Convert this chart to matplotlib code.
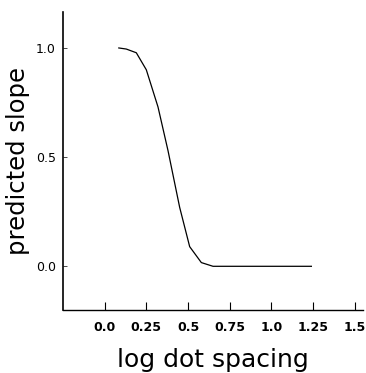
import matplotlib
matplotlib.use('Agg')
from matplotlib import pyplot as plt

# data
log_spacing = [0.085, 0.13, 0.19, 0.25, 0.32, 0.38, 0.45, 0.51, 0.58, 0.65, 0.75, 1.0, 1.24]
slope = [1.0, 0.995, 0.978, 0.90, 0.73, 0.53, 0.27, 0.09, 0.017, 0.0, 0.0, 0.0, 0.0]

xticks = [0.0, 0.25, 0.5, 0.75, 1.0, 1.25, 1.5]
xtick_labels = ['0.0', '0.25', '0.5', '0.75', '1.0', '1.25', '1.5']
yticks = [0.0, 0.5, 1.0]
ytick_labels = ['0.0', '0.5', '1.0']

fig = plt.figure(figsize=(3.66, 3.73), dpi=100)
ax = fig.add_axes([0.172, 0.169, 0.82, 0.799])

ax.plot(log_spacing, slope, color='black', lw=0.9)

ax.set_xlim(-0.25, 1.55)
ax.set_ylim(-0.2, 1.165)

ax.set_xticks(xticks)
ax.set_xticklabels(xtick_labels, fontweight='bold')
ax.set_yticks(yticks)
ax.set_yticklabels(ytick_labels)

ax.tick_params(axis='x', direction='in', length=6, width=0.8, pad=8, labelsize=9)
ax.tick_params(axis='y', direction='in', length=3, width=0.5, pad=5, labelsize=9)

for s in ['top', 'right']:
    ax.spines[s].set_visible(False)
ax.spines['left'].set_linewidth(1.2)
ax.spines['bottom'].set_linewidth(1.0)

ax.set_xlabel('log dot spacing', fontsize=18, labelpad=10)
ax.set_ylabel('predicted slope', fontsize=17.5, labelpad=4)

fig.savefig('out.png', dpi=100)
